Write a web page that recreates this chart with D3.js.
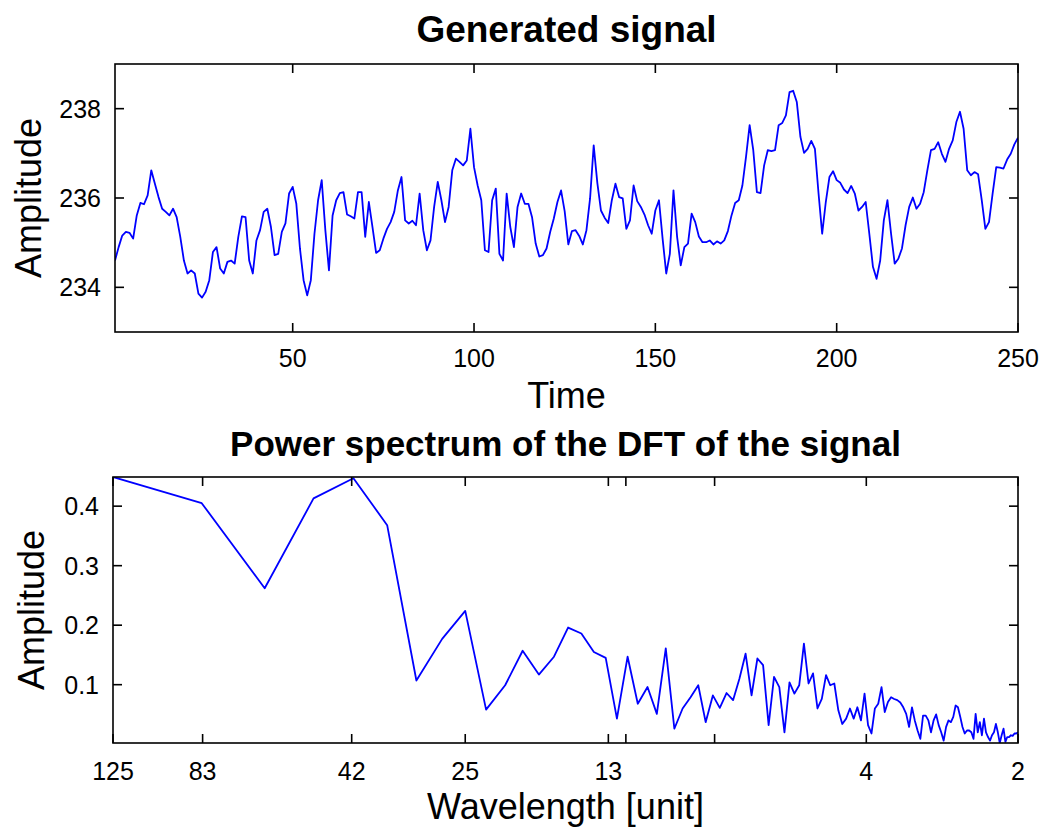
<!DOCTYPE html>
<html>
<head>
<meta charset="utf-8">
<script src="https://cdn.jsdelivr.net/npm/d3@7"></script>
<style>
  html, body { margin: 0; padding: 0; background: #fff; }
  svg { display: block; font-family: "Liberation Sans", Arial, Helvetica, sans-serif; }
</style>
</head>
<body>
<svg id="chart" width="1045" height="828"></svg>
<script>
// ---- data ----
const signal = [
  234.60, 234.90, 235.16, 235.24, 235.22, 235.09, 235.61, 235.89, 235.86, 236.06,
  236.62, 236.32, 236.02, 235.76, 235.69, 235.61, 235.76, 235.57, 235.13, 234.60,
  234.31, 234.38, 234.31, 233.86, 233.77, 233.90, 234.16, 234.79, 234.90, 234.42,
  234.31, 234.57, 234.60, 234.53, 235.13, 235.59, 235.57, 234.60, 234.31, 235.05,
  235.28, 235.69, 235.76, 235.35, 234.72, 234.75, 235.24, 235.43, 236.10, 236.25,
  235.87, 234.87, 234.16, 233.82, 234.16, 235.20, 235.95, 236.40, 235.28, 234.38,
  235.61, 235.95, 236.11, 236.13, 235.63, 235.59, 235.54, 236.13, 236.13, 235.13,
  235.91, 235.35, 234.77, 234.83, 235.09, 235.31, 235.46, 235.69, 236.17, 236.47,
  235.50, 235.43, 235.49, 235.39, 236.10, 235.28, 234.83, 235.05, 235.80, 236.36,
  235.95, 235.46, 235.80, 236.62, 236.88, 236.81, 236.73, 236.84, 237.55, 236.69,
  236.28, 235.95, 234.83, 234.79, 235.95, 236.21, 234.75, 234.60, 236.10, 235.35,
  234.90, 235.80, 236.10, 235.87, 235.87, 235.57, 234.98, 234.69, 234.72, 234.87,
  235.24, 235.54, 235.91, 236.17, 235.70, 234.96, 235.26, 235.28, 235.15, 234.96,
  235.28, 235.99, 237.18, 236.34, 235.72, 235.56, 235.44, 235.95, 236.32, 236.02,
  235.99, 235.31, 235.50, 236.28, 235.93, 235.80, 235.63, 235.39, 235.20, 235.72,
  235.95, 235.09, 234.31, 234.75, 236.17, 235.13, 234.49, 234.90, 234.98, 235.65,
  235.46, 235.14, 235.01, 235.01, 235.05, 234.96, 235.03, 234.98, 235.05, 235.26,
  235.61, 235.89, 235.95, 236.28, 236.92, 237.63, 237.07, 236.13, 236.11, 236.73,
  237.07, 237.05, 237.07, 237.63, 237.68, 237.85, 238.37, 238.40, 238.15, 237.37,
  237.01, 237.10, 237.28, 237.10, 236.10, 235.20, 235.91, 236.47, 236.60, 236.40,
  236.34, 236.19, 236.11, 236.27, 236.10, 235.72, 235.80, 235.91, 235.20, 234.46,
  234.19, 234.60, 235.50, 235.95, 235.20, 234.53, 234.64, 234.87, 235.39, 235.80,
  236.01, 235.76, 235.87, 236.13, 236.62, 237.07, 237.10, 237.25, 236.99, 236.81,
  237.10, 237.29, 237.70, 237.93, 237.55, 236.62, 236.51, 236.58, 236.53, 235.95,
  235.31, 235.46, 236.10, 236.69, 236.68, 236.66, 236.86, 236.99, 237.20, 237.35
];

// power of DFT components k = 2 .. 125 (wavelength = 250 / k)
const firstHarmonic = 2;
const spectrum = [
  0.449, 0.405, 0.262, 0.413, 0.447, 0.368, 0.107, 0.177, 0.224, 0.058,
  0.099, 0.157, 0.117, 0.147, 0.196, 0.186, 0.155, 0.145, 0.043, 0.147,
  0.068, 0.096, 0.051, 0.161, 0.026, 0.060, 0.079, 0.099, 0.037, 0.082,
  0.061, 0.086, 0.074, 0.110, 0.152, 0.082, 0.144, 0.133, 0.032, 0.113,
  0.096, 0.020, 0.104, 0.085, 0.099, 0.169, 0.102, 0.119, 0.060, 0.076,
  0.116, 0.099, 0.102, 0.057, 0.034, 0.043, 0.060, 0.043, 0.062, 0.040,
  0.085, 0.032, 0.018, 0.060, 0.068, 0.096, 0.054, 0.071, 0.079, 0.076,
  0.074, 0.070, 0.062, 0.051, 0.029, 0.062, 0.040, 0.023, 0.009, 0.048,
  0.048, 0.040, 0.020, 0.040, 0.050, 0.032, 0.020, 0.006, 0.029, 0.040,
  0.037, 0.046, 0.065, 0.062, 0.046, 0.029, 0.018, 0.023, 0.023, 0.020,
  0.009, 0.051, 0.020, 0.037, 0.015, 0.043, 0.020, 0.012, 0.006, 0.015,
  0.020, 0.034, 0.020, 0.002, 0.015, 0.026, 0.004, 0.012, 0.012, 0.015,
  0.014, 0.018, 0.018, 0.020
];

const topXTicks = [50, 100, 150, 200, 250];
const topYTicks = [234, 236, 238];
const topYDomain = [233, 239];
const botXTicks = [125, 83, 42, 25, 13, 12, 8, 4, 2];
const botXTickLabels = ["125", "83", "42", "25", "13", "", "", "4", "2"];
const botYTicks = [0.1, 0.2, 0.3, 0.4];

const titles = ["Generated signal", "Power spectrum of the DFT of the signal"];
const xLabels = ["Time", "Wavelength [unit]"];
const yLabel = "Amplitude";

// ---- drawing ----
const svg = d3.select("#chart");
const LINE = "#0000ff";
const TICK_LEN = 9;

function frame(g, left, top, right, bottom) {
  g.append("rect")
    .attr("x", left).attr("y", top)
    .attr("width", right - left).attr("height", bottom - top)
    .attr("fill", "none").attr("stroke", "#000").attr("stroke-width", 1.6);
}

function drawPanel(opts) {
  const { x, y, xTicks, xFmt, yTicks, yFmt, title, xLabel, box, titleY, xLabelY, tickLabelY } = opts;
  const g = svg.append("g");

  const clipId = opts.clipId;
  svg.append("clipPath").attr("id", clipId).append("rect")
    .attr("x", box.left).attr("y", box.top)
    .attr("width", box.right - box.left).attr("height", box.bottom - box.top);

  // data line
  g.append("path")
    .datum(opts.data)
    .attr("clip-path", `url(#${clipId})`)
    .attr("fill", "none")
    .attr("stroke", LINE)
    .attr("stroke-width", 1.8)
    .attr("stroke-linejoin", "round")
    .attr("d", d3.line().x(d => x(d[0])).y(d => y(d[1])));

  // ticks (inward, mirrored)
  const tk = g.append("g").attr("stroke", "#000").attr("stroke-width", 1.6);
  xTicks.forEach(t => {
    const px = x(t);
    tk.append("line").attr("x1", px).attr("x2", px).attr("y1", box.bottom).attr("y2", box.bottom - TICK_LEN);
    tk.append("line").attr("x1", px).attr("x2", px).attr("y1", box.top).attr("y2", box.top + TICK_LEN);
  });
  yTicks.forEach(t => {
    const py = y(t);
    tk.append("line").attr("y1", py).attr("y2", py).attr("x1", box.left).attr("x2", box.left + TICK_LEN);
    tk.append("line").attr("y1", py).attr("y2", py).attr("x1", box.right).attr("x2", box.right - TICK_LEN);
  });

  frame(g, box.left, box.top, box.right, box.bottom);

  // tick labels
  g.selectAll("text.xt").data(xTicks).enter().append("text")
    .attr("x", d => x(d)).attr("y", tickLabelY)
    .attr("text-anchor", "middle")
    .attr("font-size", 25)
    .text((d, i) => xFmt(d, i));
  g.selectAll("text.yt").data(yTicks).enter().append("text")
    .attr("x", box.left - 14).attr("y", d => y(d) + 9)
    .attr("text-anchor", "end")
    .attr("font-size", 25)
    .text(d => yFmt(d));

  const cx = (box.left + box.right) / 2;
  g.append("text").attr("x", cx).attr("y", titleY)
    .attr("text-anchor", "middle").attr("font-size", opts.titleSize).attr("font-weight", "bold")
    .text(title);
  g.append("text").attr("x", cx).attr("y", xLabelY)
    .attr("text-anchor", "middle").attr("font-size", 36)
    .text(xLabel);
  const cy = (box.top + box.bottom) / 2;
  g.append("text")
    .attr("transform", `translate(${opts.yLabelX},${cy}) rotate(-90)`)
    .attr("text-anchor", "middle").attr("font-size", 36)
    .text(yLabel);
}

// top panel
const box1 = { left: 115, right: 1018, top: 64, bottom: 332 };
const x1 = d3.scaleLinear().domain([1, signal.length]).range([box1.left, box1.right]);
const y1 = d3.scaleLinear().domain(topYDomain).range([box1.bottom, box1.top]);
drawPanel({
  clipId: "clipTop",
  data: signal.map((v, i) => [i + 1, v]),
  x: x1, y: y1,
  xTicks: topXTicks, xFmt: d => d3.format("d")(d),
  yTicks: topYTicks, yFmt: d => d3.format("d")(d),
  title: titles[0], xLabel: xLabels[0], titleSize: 37,
  box: box1, titleY: 42, xLabelY: 408, tickLabelY: 367, yLabelX: 41
});

// bottom panel
const box2 = { left: 113, right: 1018, top: 477, bottom: 743 };
const N = signal.length;
const specData = spectrum.map((v, i) => [N / (i + firstHarmonic), v]);
const x2 = d3.scaleLog().domain([N / firstHarmonic, N / (firstHarmonic + spectrum.length - 1)]).range([box2.left, box2.right]);
const y2 = d3.scaleLinear().domain(d3.extent(spectrum)).range([box2.bottom, box2.top]);
drawPanel({
  clipId: "clipBottom",
  data: specData,
  x: x2, y: y2,
  xTicks: botXTicks, xFmt: (d, i) => botXTickLabels[i],
  yTicks: botYTicks, yFmt: d => d3.format(".1f")(d),
  title: titles[1], xLabel: xLabels[1], titleSize: 35,
  box: box2, titleY: 456, xLabelY: 819, tickLabelY: 780, yLabelX: 44
});
</script>
</body>
</html>
